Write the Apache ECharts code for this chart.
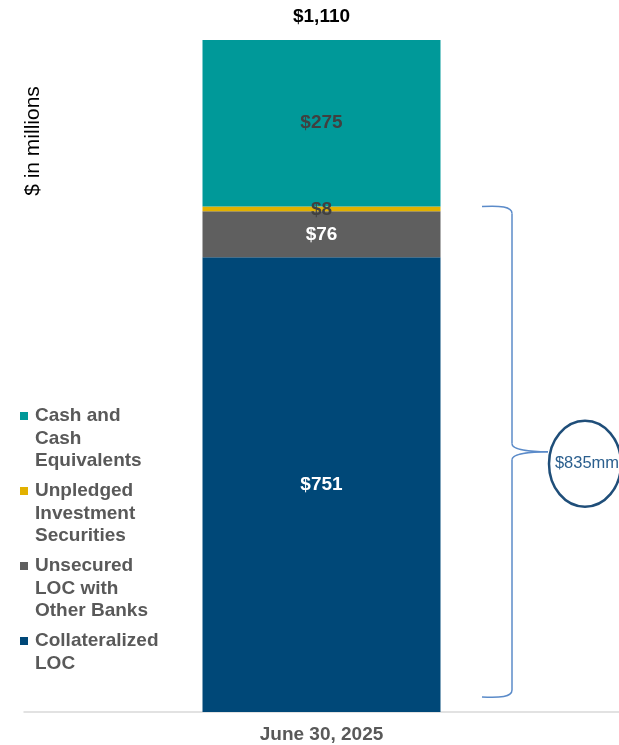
<!DOCTYPE html>
<html>
<head>
<meta charset="utf-8">
<script src="https://cdn.jsdelivr.net/npm/echarts@6/dist/echarts.min.js"></script>
<style>
html, body { margin: 0; padding: 0; background: #fff; }
#container { width: 619px; height: 745px; }
</style>
</head>
<body>
<div id="container"></div>
<script>
// data, bottom of the stack first
var categories = ['June 30, 2025'];
var seriesNames = ['Collateralized LOC', 'Unsecured LOC with Other Banks', 'Unpledged Investment Securities', 'Cash and Cash Equivalents'];
var legendLabels = ['Collateralized\nLOC', 'Unsecured\nLOC with\nOther Banks', 'Unpledged\nInvestment\nSecurities', 'Cash and\nCash\nEquivalents'];
var seriesValues = [[751], [76], [8], [275]];
var seriesColors = ['#004878', '#5F5F5F', '#E2B100', '#009999'];
var labelColors = ['#ffffff', '#ffffff', '#404040', '#404040'];
var bracedCount = 3; // first three series are inside the brace

var total = 0;
seriesValues.forEach(function (v) { total += v[0]; });
var braced = 0;
for (var i = 0; i < bracedCount; i++) braced += seriesValues[i][0];

function money(v) {
    return '$' + String(v).replace(/\B(?=(\d{3})+(?!\d))/g, ',');
}

var myChart = echarts.init(document.getElementById('container'));

var series = seriesNames.map(function (name, i) {
    return {
        name: name,
        type: 'bar',
        stack: 'total',
        barWidth: '40%',
        data: seriesValues[i],
        itemStyle: { color: seriesColors[i] },
        label: {
            show: true,
            position: 'inside',
            formatter: function (p) { return money(p.value); },
            color: labelColors[i],
            fontFamily: 'Liberation Sans',
            fontWeight: 'bold',
            fontSize: 19,
            offset: i === 2 ? [0, 1] : [0, 0]
        }
    };
});
// total on top of the bar
series.push({
    name: 'total',
    type: 'bar',
    stack: 'total',
    data: [0],
    itemStyle: { color: 'transparent' },
    label: {
        show: true,
        position: 'top',
        distance: 14,
        formatter: function () { return money(total); },
        color: '#000',
        fontFamily: 'Liberation Sans',
        fontWeight: 'bold',
        fontSize: 19
    }
});

// legend drawn by hand so the square sits on the first text line
var legendGraphics = [];
var order = [3, 2, 1, 0];
order.forEach(function (idx, k) {
    var top = 405 + k * 75;
    legendGraphics.push({
        type: 'rect',
        shape: { x: 20, y: top + 7, width: 8, height: 8 },
        style: { fill: seriesColors[idx] }
    });
    legendGraphics.push({
        type: 'text',
        x: 35,
        y: top,
        style: {
            text: legendLabels[idx],
            fill: '#595959',
            font: 'bold 19px "Liberation Sans"',
            lineHeight: 22.5
        }
    });
});
legendGraphics.push({
    type: 'text',
    x: 33,
    y: 141,
    rotation: Math.PI / 2,
    style: {
        text: '$ in millions',
        fill: '#000',
        font: '21px "Liberation Sans"',
        align: 'center',
        verticalAlign: 'middle'
    }
});

var option = {
    animation: false,
    grid: {
        left: 24,
        right: 0,
        top: 40,
        bottom: 33
    },
    xAxis: {
        type: 'category',
        data: categories,
        axisLine: { lineStyle: { color: '#D9D9D9', width: 1.5 } },
        axisTick: { show: false },
        axisLabel: {
            color: '#595959',
            fontFamily: 'Liberation Sans',
            fontWeight: 'bold',
            fontSize: 19,
            margin: 13
        }
    },
    yAxis: {
        type: 'value',
        min: 0,
        max: total,
        show: false
    },
    series: series,
    graphic: legendGraphics
};
myChart.setOption(option);

// brace + circled callout for the first three segments
var yTop = myChart.convertToPixel({ yAxisIndex: 0 }, braced);
var yBot = myChart.convertToPixel({ yAxisIndex: 0 }, 0) - 15;
var yMid = (yTop + yBot) / 2;
var x0 = 482, x1 = 512, xt = 548;
var braceStyle = { fill: null, stroke: '#5B8BC9', lineWidth: 1.5 };

function curve(ax, ay, c1x, c1y, c2x, c2y, bx, by) {
    return {
        type: 'bezierCurve',
        shape: { x1: ax, y1: ay, cpx1: c1x, cpy1: c1y, cpx2: c2x, cpy2: c2y, x2: bx, y2: by },
        style: braceStyle
    };
}
function seg(ax, ay, bx, by) {
    return { type: 'line', shape: { x1: ax, y1: ay, x2: bx, y2: by }, style: braceStyle };
}

var braceParts = [
    curve(x0, yTop, 500, yTop - 1, x1, yTop, x1, yTop + 7),
    seg(x1, yTop + 7, x1, yMid - 8),
    curve(x1, yMid - 8, x1, yMid - 2, 530, yMid, xt, yMid),
    curve(xt, yMid, 530, yMid, x1, yMid + 2, x1, yMid + 8),
    seg(x1, yMid + 8, x1, yBot - 7),
    curve(x1, yBot - 7, x1, yBot, 500, yBot + 1, x0, yBot)
];

var cy = yMid + 12;
myChart.setOption({
    graphic: legendGraphics.concat(braceParts, [{
        type: 'ellipse',
        shape: { cx: 585, cy: cy, rx: 36, ry: 43 },
        style: { fill: '#fff', stroke: '#1F4E79', lineWidth: 2.5 }
    }, {
        type: 'text',
        x: 587,
        y: cy,
        style: {
            text: '$' + braced + 'mm',
            fill: '#2B5F8E',
            font: '16.5px "Liberation Sans"',
            align: 'center',
            verticalAlign: 'middle'
        }
    }])
});
</script>
</body>
</html>
